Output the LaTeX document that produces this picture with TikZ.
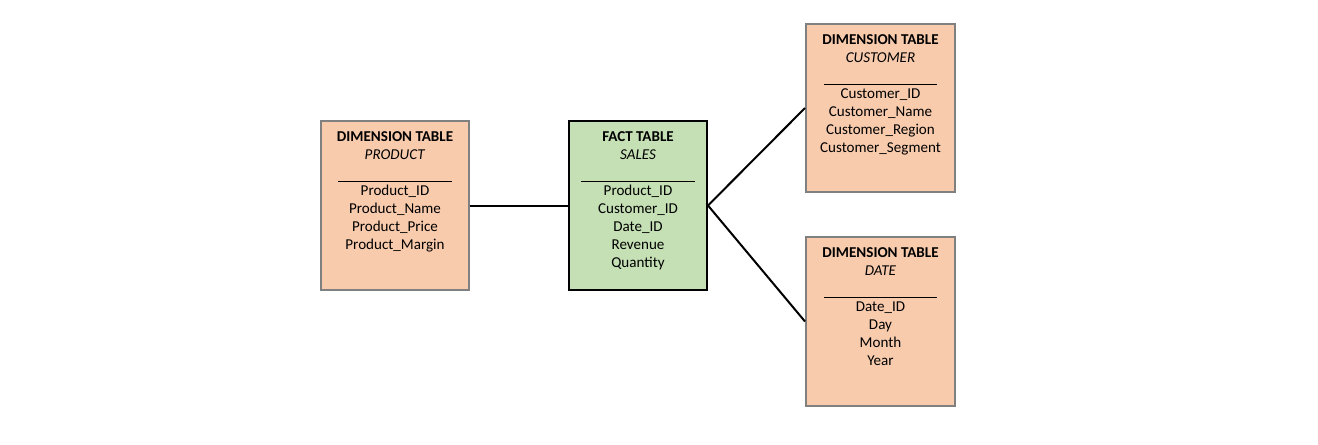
\documentclass[tikz,border=0pt]{standalone}
\usepackage{fontspec}
\setmainfont{Carlito}
\usepackage{xcolor}
\usetikzlibrary{positioning}

\definecolor{dimfill}{RGB}{248,203,173}
\definecolor{dimline}{RGB}{128,128,128}
\definecolor{factfill}{RGB}{197,224,180}

\tikzset{
  dimbox/.style={draw=dimline, fill=dimfill, line width=1.5pt, inner sep=0pt},
  factbox/.style={draw=black, fill=factfill, line width=1.5pt, inner sep=0pt},
  tabtext/.style={inner sep=0pt, align=center, anchor=north, font=\fontsize{11.3}{13.5}\selectfont},
  joinline/.style={line width=1.5pt, black}
}
\newcommand{\tabrule}{\rule[-3pt]{85pt}{0.6pt}}

\begin{document}
\begin{tikzpicture}[x=0.75pt,y=0.75pt,yscale=-1,xscale=1]
\useasboundingbox (0,0) rectangle (1318,444);

%Shape: Rectangle [product]
\node [dimbox, minimum width=111pt, minimum height=126.75pt] (product) at (395,205.5) {};
%Shape: Rectangle [sales]
\node [factbox, minimum width=103.5pt, minimum height=126.75pt] (sales) at (638,205.5) {};
%Shape: Rectangle [customer]
\node [dimbox, minimum width=111.75pt, minimum height=126pt] (customer) at (880.5,108) {};
%Shape: Rectangle [date]
\node [dimbox, minimum width=111.75pt, minimum height=126.75pt] (date) at (880.5,321.5) {};

%Straight Lines
\draw [joinline] (product.east) -- (sales.west);
\draw [joinline] (sales.east) -- (customer.west);
\draw [joinline] (sales.east) -- (date.west);

% Text Node
\node [tabtext, below=8.8pt of product.north] (productText) {\textbf{DIMENSION TABLE}\\\textit{PRODUCT}\\\tabrule\\Product\_ID\\Product\_Name\\Product\_Price\\Product\_Margin};
% Text Node
\node [tabtext, below=8.8pt of sales.north] (salesText) {\textbf{FACT TABLE}\\\textit{SALES}\\\tabrule\\Product\_ID\\Customer\_ID\\Date\_ID\\Revenue\\Quantity};
% Text Node
\node [tabtext, below=8.8pt of customer.north] (customerText) {\textbf{DIMENSION TABLE}\\\textit{CUSTOMER}\\\tabrule\\Customer\_ID\\Customer\_Name\\Customer\_Region\\Customer\_Segment};
% Text Node
\node [tabtext, below=8.8pt of date.north] (dateText) {\textbf{DIMENSION TABLE}\\\textit{DATE}\\\tabrule\\Date\_ID\\Day\\Month\\Year};

\end{tikzpicture}
\end{document}
